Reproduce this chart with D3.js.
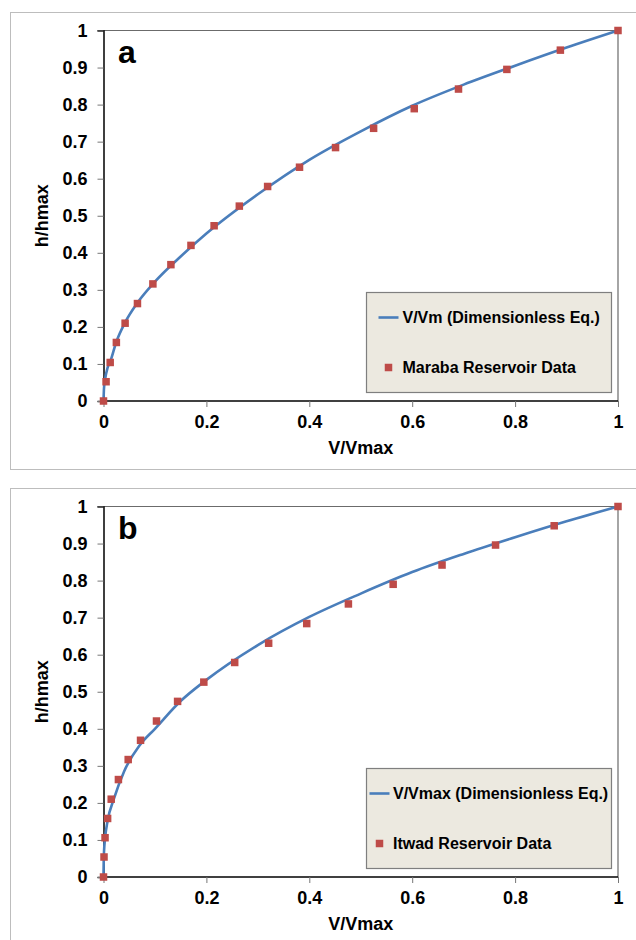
<!DOCTYPE html>
<html>
<head>
<meta charset="utf-8">
<script src="https://cdn.jsdelivr.net/npm/d3@7"></script>
<style>
  body { margin: 0; background: #fff; }
  text { font-family: "Liberation Sans", Arial, sans-serif; font-weight: bold; }
</style>
</head>
<body>
<svg width="636" height="940"></svg>
<script>
const svg = d3.select("svg");

// ticks
const xTicks = [0, 0.2, 0.4, 0.6, 0.8, 1];
const yTicks = [0, 0.1, 0.2, 0.3, 0.4, 0.5, 0.6, 0.7, 0.8, 0.9, 1];

// panel a - Maraba reservoir
const marabaV = [0, 0.005, 0.013, 0.025, 0.042, 0.066, 0.096, 0.131, 0.170, 0.215, 0.264, 0.319, 0.381, 0.451, 0.525, 0.604, 0.690, 0.784, 0.888, 1];
const marabaH = [0, 0.052, 0.104, 0.158, 0.210, 0.263, 0.316, 0.368, 0.420, 0.473, 0.526, 0.579, 0.631, 0.684, 0.736, 0.789, 0.842, 0.895, 0.947, 1];
const eqAV = [0, 0.001, 0.003, 0.008, 0.013, 0.025, 0.042, 0.066, 0.1, 0.15, 0.2, 0.3, 0.4, 0.5, 0.6, 0.7, 0.8, 0.9, 1];
const eqAH = [0, 0.035, 0.058, 0.09, 0.106, 0.16, 0.212, 0.265, 0.322, 0.39, 0.452, 0.558, 0.651, 0.728, 0.797, 0.854, 0.905, 0.954, 1];

// panel b - Itwad reservoir
const itwadV = [0, 0.001, 0.003, 0.008, 0.015, 0.029, 0.048, 0.072, 0.103, 0.144, 0.195, 0.255, 0.321, 0.395, 0.476, 0.563, 0.658, 0.762, 0.876, 1];
const itwadH = [0, 0.054, 0.106, 0.158, 0.210, 0.263, 0.317, 0.369, 0.421, 0.474, 0.526, 0.579, 0.631, 0.684, 0.737, 0.790, 0.842, 0.896, 0.948, 1];
const eqBV = [0, 0.0005, 0.001, 0.003, 0.008, 0.02, 0.04, 0.07, 0.1, 0.15, 0.2, 0.3, 0.4, 0.5, 0.6, 0.7, 0.8, 0.9, 1];
const eqBH = [0, 0.05, 0.068, 0.104, 0.152, 0.21, 0.285, 0.355, 0.40, 0.475, 0.532, 0.626, 0.702, 0.765, 0.823, 0.872, 0.917, 0.96, 1];

const legendA = ["V/Vm (Dimensionless Eq.)", "Maraba Reservoir Data"];
const legendB = ["V/Vmax (Dimensionless Eq.)", "Itwad Reservoir Data"];

const corLinha = "#4a7ebb";
const corPonto = "#be4b48";

function painel(top, letra, eqV, eqH, ptV, ptH, legenda, legX) {
    // moldura externa
    svg.append("rect")
        .attr("x", 10.5).attr("y", top + 0.5)
        .attr("width", 640).attr("height", 457)
        .attr("fill", "none").attr("stroke", "#bdbdbd");

    const esq = 103.5, dir = 618, topo = top + 18.5, base = top + 389;
    const x = d3.scaleLinear().domain([0, 1]).range([esq, dir]);
    const y = d3.scaleLinear().domain([0, 1]).range([base, topo]);

    const g = svg.append("g");

    // borda superior e direita
    g.append("path")
        .attr("d", `M${esq - 6},${topo}H${dir}V${base}`)
        .attr("fill", "none").attr("stroke", "#6b6b6b").attr("stroke-width", 1.2);

    const fmt = d => String(+d.toFixed(1));

    const eixoX = g.append("g")
        .attr("transform", `translate(0,${base})`)
        .call(d3.axisBottom(x).tickValues(xTicks).tickSize(6).tickFormat(fmt));
    const eixoY = g.append("g")
        .attr("transform", `translate(${esq},0)`)
        .call(d3.axisLeft(y).tickValues(yTicks).tickSize(6).tickFormat(fmt));

    [eixoX, eixoY].forEach(ax => {
        ax.select(".domain").attr("stroke", "#000").attr("stroke-width", 1.5);
        ax.selectAll(".tick line").attr("stroke", "#777");
        ax.selectAll(".tick text").attr("font-size", 18).attr("fill", "#000")
            .style("font-family", "'Liberation Sans', Arial, sans-serif").style("font-weight", "bold");
    });
    eixoX.selectAll(".tick text").attr("dy", "1.0em");
    eixoY.selectAll(".tick text").attr("x", -16);
    eixoX.select(".domain").attr("d", `M${esq},0H${dir}`);

    g.append("text")
        .attr("x", (esq + dir) / 2).attr("y", base + 53)
        .attr("text-anchor", "middle").attr("font-size", 18)
        .text("V/Vmax");
    g.append("text")
        .attr("transform", `translate(48,${(topo + base) / 2}) rotate(-90)`)
        .attr("text-anchor", "middle").attr("font-size", 18)
        .text("h/hmax");

    g.append("text")
        .attr("x", 118).attr("y", topo + 32)
        .attr("font-size", 32)
        .text(letra);

    // curva da equacao adimensional
    const curva = eqV.map((v, i) => [v, eqH[i]]);
    g.append("path")
        .datum(curva)
        .attr("fill", "none")
        .attr("stroke", corLinha)
        .attr("stroke-width", 2.6)
        .attr("d", d3.line().x(d => x(d[0])).y(d => y(d[1])).curve(d3.curveMonotoneX));

    // pontos do reservatorio
    const pontos = ptV.map((v, i) => [v, ptH[i]]);
    const lado = 7.5;
    g.selectAll(".pt")
        .data(pontos)
        .join("rect")
        .attr("x", d => x(d[0]) - lado / 2)
        .attr("y", d => y(d[1]) - lado / 2)
        .attr("width", lado).attr("height", lado)
        .attr("fill", corPonto);

    // legenda
    const leg = g.append("g").attr("transform", `translate(366.5,${top + 280.5})`);
    leg.append("rect")
        .attr("width", 245).attr("height", 100)
        .attr("fill", "#ece9e0").attr("stroke", "#7f7f7f").attr("stroke-width", 1.2);
    leg.append("line")
        .attr("x1", legX.linha).attr("x2", legX.linha + 20)
        .attr("y1", 25).attr("y2", 25)
        .attr("stroke", corLinha).attr("stroke-width", 2.6);
    leg.append("text")
        .attr("x", legX.texto).attr("y", 25).attr("dy", "0.36em")
        .attr("font-size", 16)
        .text(legenda[0]);
    leg.append("rect")
        .attr("x", legX.ponto - lado / 2).attr("y", 75 - lado / 2)
        .attr("width", lado).attr("height", lado)
        .attr("fill", corPonto);
    leg.append("text")
        .attr("x", legX.texto).attr("y", 75).attr("dy", "0.36em")
        .attr("font-size", 16)
        .text(legenda[1]);
}

painel(12, "a", eqAV, eqAH, marabaV, marabaH, legendA, {linha: 12, ponto: 22, texto: 36});
painel(488, "b", eqBV, eqBH, itwadV, itwadH, legendB, {linha: 3, ponto: 13, texto: 26.5});
</script>
</body>
</html>
